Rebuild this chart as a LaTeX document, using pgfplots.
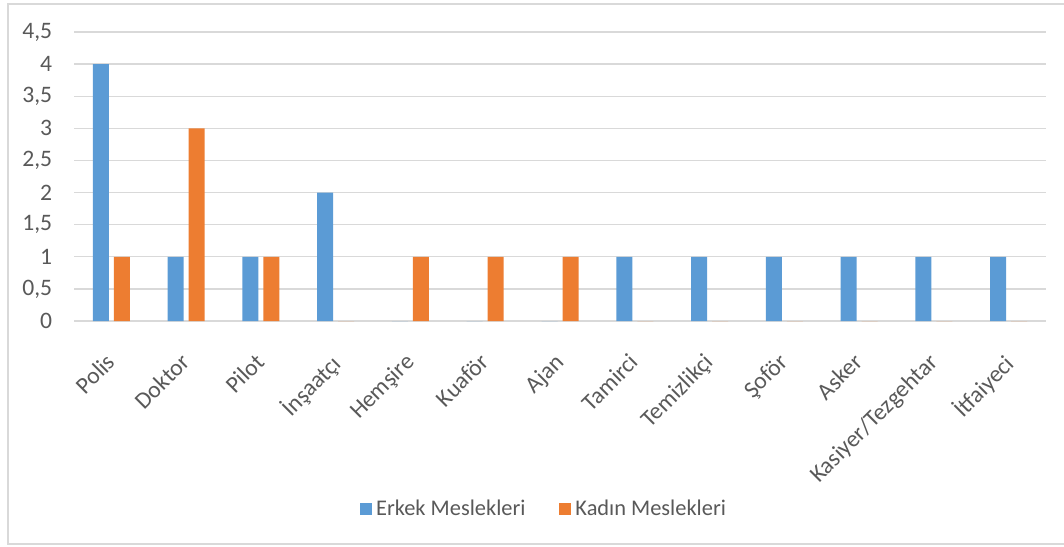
\documentclass[border=0pt]{standalone}
\usepackage{fontspec}
\setmainfont{Carlito}
\usepackage{pgfplots}
\pgfplotsset{compat=1.18}
\definecolor{xblue}{HTML}{5B9BD5}
\definecolor{xorange}{HTML}{ED7D31}
\definecolor{xgrid}{HTML}{D9D9D9}
\definecolor{xtext}{HTML}{595959}
\begin{document}
\fontsize{11.2}{13.4}\selectfont
\begin{tikzpicture}
\useasboundingbox (0,0) rectangle (532pt,-273pt);
\draw[xgrid, line width=0.6pt] (540pt,-2pt) -- (4pt,-2pt) -- (4pt,-272pt) -- (540pt,-272pt);
\begin{axis}[
  at={(37pt,-160.5pt)}, anchor=south west,
  scale only axis, width=486pt, height=144.5pt,
  xmin=-0.5, xmax=12.5, ymin=0, ymax=4.5,
  ytick={0,0.5,1,1.5,2,2.5,3,3.5,4,4.5},
  xtick={0,1,2,3,4,5,6,7,8,9,10,11,12},
  xticklabels={Polis,Doktor,Pilot,İnşaatçı,Hemşire,Kuaför,Ajan,Tamirci,Temizlikçi,Şoför,Asker,Kasiyer/Tezgehtar,İtfaiyeci},
  ymajorgrids, grid style={xgrid, line width=0.7pt},
  axis line style={draw=none},
  major tick length=0pt,
  tick label style={text=xtext, font=\fontsize{11.8}{14}\selectfont},
  /pgf/number format/assume math mode=true,
  /pgf/number format/use comma,
  yticklabel style={anchor=east, xshift=-7pt},
  xticklabel style={xshift=-3.3pt, yshift=-15.3pt, rotate=45, anchor=north east, inner sep=0pt},
  ybar=2.5pt, bar width=8pt,
  legend style={at={(0.4846,-0.6505)}, anchor=center, draw=none, legend columns=2,
    /tikz/every even column/.append style={column sep=15pt}, text=xtext,
    inner sep=0pt},
  legend image code/.code={\fill[#1] (0pt,-3pt) rectangle (6pt,3pt);},
  clip=false,
]
\addplot[fill=xblue, draw=none] coordinates {(0,4) (1,1) (2,1) (3,2) (4,0) (5,0) (6,0) (7,1) (8,1) (9,1) (10,1) (11,1) (12,1)};
\addplot[fill=xorange, draw=none] coordinates {(0,1) (1,3) (2,1) (3,0) (4,1) (5,1) (6,1) (7,0) (8,0) (9,0) (10,0) (11,0) (12,0)};
\legend{Erkek Meslekleri, Kadın Meslekleri}
\end{axis}
\end{tikzpicture}
\end{document}
